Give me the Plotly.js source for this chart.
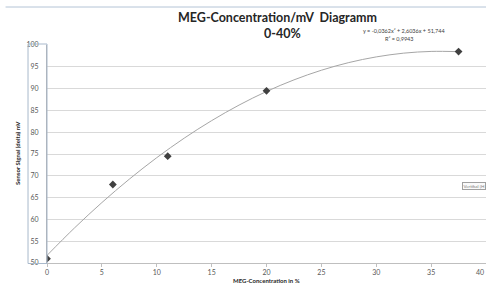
<!DOCTYPE html>
<html>
<head>
<meta charset="utf-8">
<script src="https://cdn.plot.ly/plotly-3.0.1.min.js"></script>
<style>html,body{margin:0;padding:0;background:#fff;}#chart{width:486px;height:284px;}</style>
</head>
<body>
<div id="chart"></div>
<script>
// Data
const concentration = [0, 6, 11, 20, 37.5];
const signal = [51, 68, 74.5, 89.5, 98.5];
// Trendline as drawn in the picture (polynomial, order 2)
const trendX = [0, 2.5, 5, 7.5, 10, 12.5, 15, 17.5, 20, 22.5, 25, 27.5, 30, 32.5, 35, 37.5];
const trendY = [51.74, 58.03, 63.86, 69.23, 74.16, 78.63, 82.65, 86.22, 89.34, 92.00, 94.21, 95.97, 97.27, 98.13, 98.53, 98.47];
const xTicks = [0, 5, 10, 15, 20, 25, 30, 35, 40];
const xTickLabels = ["0", "5", "10", "15", "20", "25", "30", "35", ""];
const xLastTick = "40";
const yTicks = [50, 55, 60, 65, 70, 75, 80, 85, 90, 95, 100];
const titleLine1 = "MEG-Concentration/mV  Diagramm";
const titleLine2 = "0-40%";
const eqText = "y = -0,0362x² + 2,6036x + 51,744";
const r2Text = "R² = 0,9943";

const W = 486, H = 284;
const mL = 46.5, mR = 0, mT = 45, mB = 21;
const pw = W - mL - mR, ph = H - mT - mB;
const px = x => (x - mL) / pw;
const py = y => (H - mB - y) / ph;
const font = "Lato, 'Open Sans', sans-serif";

const traces = [
  {x: trendX, y: trendY, type: 'scatter', mode: 'lines', line: {color: '#a6a6a6', width: 1, shape: 'spline'}, hoverinfo: 'skip', showlegend: false},
  {x: concentration, y: signal, type: 'scatter', mode: 'markers', marker: {symbol: 'diamond', size: 6, color: '#404040'}, showlegend: false}
];

const layout = {
  width: W, height: H,
  margin: {l: mL, r: mR, t: mT, b: mB, pad: 0},
  paper_bgcolor: '#fff', plot_bgcolor: '#fff',
  showlegend: false,
  xaxis: {range: [0, 40], tickvals: xTicks, ticktext: xTickLabels, showgrid: false, zeroline: false,
          showline: true, linecolor: '#bfbfbf', linewidth: 1, ticks: 'outside', ticklen: 3, tickcolor: '#bfbfbf',
          tickfont: {family: font, size: 7, color: '#595959'}, fixedrange: true},
  yaxis: {range: [50, 100], tickvals: yTicks, ticktext: yTicks.map(String), showgrid: true, gridcolor: '#d9d9d9', gridwidth: 1,
          zeroline: false, showline: true, linecolor: '#b0b0b0', linewidth: 1, ticks: '', ticklabelstandoff: 6,
          tickfont: {family: font, size: 7, color: '#595959'}, fixedrange: true},
  shapes: [
    {type: 'line', xref: 'paper', yref: 'paper', x0: px(5), x1: px(486), y0: py(7), y1: py(7), line: {color: '#b4c4d6', width: 1}},
    {type: 'rect', xref: 'paper', yref: 'paper', x0: px(27.5), x1: px(46.5), y0: py(44), y1: py(263.5), line: {color: '#a9b9cc', width: 1}}
  ],
  annotations: [
    {text: '<b>' + titleLine1 + '</b>', xref: 'paper', yref: 'paper', x: px(277), y: py(17), xanchor: 'center', yanchor: 'middle', showarrow: false, font: {family: font, size: 12.5, color: '#262626'}},
    {text: '<b>' + titleLine2 + '</b>', xref: 'paper', yref: 'paper', x: px(282), y: py(33), xanchor: 'center', yanchor: 'middle', showarrow: false, font: {family: font, size: 12.5, color: '#262626'}},
    {text: eqText, xref: 'paper', yref: 'paper', x: px(404), y: py(31), xanchor: 'center', yanchor: 'middle', showarrow: false, font: {family: font, size: 5.5, color: '#404040'}},
    {text: r2Text, xref: 'paper', yref: 'paper', x: px(399), y: py(38.5), xanchor: 'center', yanchor: 'middle', showarrow: false, font: {family: font, size: 5.5, color: '#404040'}},
    {text: '<b>Sensor Signal (delta) mV</b>', xref: 'paper', yref: 'paper', x: px(16.5), y: py(153), xanchor: 'center', yanchor: 'middle', textangle: -90, showarrow: false, font: {family: font, size: 6, color: '#262626'}},
    {text: '<b>MEG-Concentration in %</b>', xref: 'paper', yref: 'paper', x: px(266), y: py(275), xanchor: 'center', yanchor: 'top', showarrow: false, font: {family: font, size: 6, color: '#262626'}},
    {text: xLastTick, xref: 'paper', yref: 'paper', x: px(485.5), y: py(272), xanchor: 'right', yanchor: 'middle', showarrow: false, font: {family: font, size: 7, color: '#595959'}},
    {text: 'Vertikal (H', xref: 'paper', yref: 'paper', x: px(462), y: py(185.5), xanchor: 'left', yanchor: 'middle', showarrow: false, align: 'left',
     bordercolor: '#a0a0a0', borderwidth: 1, borderpad: 0.5, bgcolor: '#fafafa', font: {family: font, size: 4.5, color: '#808080'}}
  ]
};

Plotly.newPlot('chart', traces, layout, {displayModeBar: false, staticPlot: true});
</script>
</body>
</html>
